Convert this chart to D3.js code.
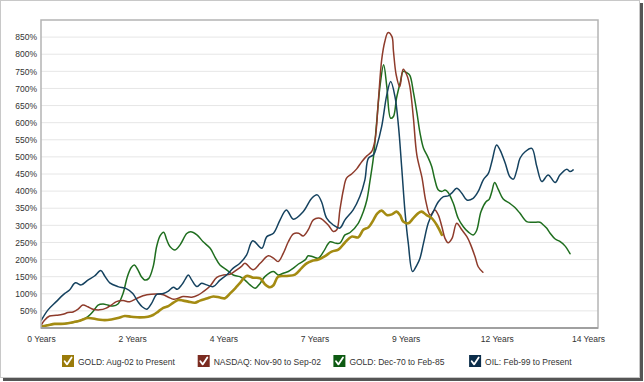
<!DOCTYPE html>
<html><head><meta charset="utf-8">
<script src="https://cdn.jsdelivr.net/npm/d3@7"></script>
<style>
body{margin:0;background:#fff}
svg{display:block}
text{font-family:"Liberation Sans",Arial,sans-serif;fill:#333;font-size:8.5px}
</style>
</head><body>
<svg id="chart" width="644" height="382"></svg>
<script>
// ---- data (years since start, % gain) ----
const seriesNames = ["GOLD: Aug-02 to Present","NASDAQ: Nov-90 to Sep-02","GOLD: Dec-70 to Feb-85","OIL: Feb-99 to Present"];
const lineColors = ["#a48b12","#8e3b2b","#1f6e1f","#15425f"];
const boxColors = ["#9a7b0a","#7b2b20","#0d5a12","#0b2d4a"];
const yTickValues = [50,100,150,200,250,300,350,400,450,500,550,600,650,700,750,800,850];
const xTickYears = [0, 14/6, 28/6, 7, 56/6, 70/6, 14];
const xTickLabels = ["0 Years","2 Years","4 Years","7 Years","9 Years","12 Years","14 Years"];

const goldAug02 = [[0.01,4],[0.18,8],[0.35,12],[0.51,12],[0.69,14],[0.86,18],[1.03,23],[1.20,29],[1.46,25],[1.63,23],[1.80,25],[1.97,29],[2.14,35],[2.31,33],[2.53,31],[2.74,33],[2.87,38],[3.00,48],[3.13,59],[3.26,64],[3.39,74],[3.51,82],[3.64,80],[3.77,77],[3.94,74],[4.07,80],[4.24,86],[4.41,92],[4.58,89],[4.71,87],[4.84,101],[4.97,116],[5.09,131],[5.26,152],[5.43,147],[5.61,145],[5.73,128],[5.86,119],[5.95,125],[6.07,150],[6.29,152],[6.50,156],[6.67,175],[6.80,189],[6.93,196],[7.10,200],[7.27,210],[7.44,223],[7.61,229],[7.78,250],[7.95,267],[8.12,265],[8.25,287],[8.38,294],[8.51,316],[8.61,335],[8.72,343],[8.85,330],[8.98,332],[9.10,340],[9.19,330],[9.27,311],[9.40,306],[9.53,321],[9.65,335],[9.74,340],[9.87,330],[10.00,321],[10.13,301],[10.26,272]];

const nasdaq90 = [[0.01,9],[0.09,23],[0.22,35],[0.39,37],[0.56,40],[0.69,45],[0.82,47],[0.95,55],[1.07,67],[1.20,62],[1.33,55],[1.50,53],[1.67,58],[1.80,67],[1.93,77],[2.10,80],[2.27,77],[2.44,86],[2.61,94],[2.71,97],[2.96,99],[3.13,97],[3.26,90],[3.39,84],[3.51,87],[3.64,92],[3.86,90],[4.03,97],[4.15,106],[4.33,123],[4.50,148],[4.67,155],[4.84,157],[5.01,170],[5.14,181],[5.22,189],[5.43,170],[5.61,189],[5.82,211],[5.95,204],[6.07,194],[6.20,218],[6.33,252],[6.46,275],[6.59,277],[6.71,269],[6.84,287],[6.97,316],[7.14,321],[7.35,301],[7.48,282],[7.57,287],[7.65,345],[7.74,404],[7.82,438],[7.95,450],[8.08,465],[8.21,486],[8.34,503],[8.46,515],[8.55,550],[8.63,657],[8.72,784],[8.80,837],[8.88,863],[8.98,852],[9.02,810],[9.09,740],[9.18,705],[9.27,756],[9.36,740],[9.44,706],[9.53,615],[9.62,505],[9.75,440],[9.85,370],[9.96,330],[10.08,345],[10.17,330],[10.26,296],[10.34,262],[10.42,249],[10.52,262],[10.64,306],[10.77,287],[10.90,267],[10.98,248],[11.11,208],[11.19,179],[11.31,163]];

const goldDec70 = [[0.01,4],[0.18,9],[0.44,12],[0.69,14],[0.90,18],[1.07,25],[1.20,33],[1.33,48],[1.46,67],[1.59,70],[1.71,67],[1.84,64],[1.97,70],[2.10,101],[2.21,150],[2.31,177],[2.39,184],[2.48,170],[2.57,150],[2.67,140],[2.76,145],[2.87,179],[2.96,238],[3.05,270],[3.14,280],[3.22,257],[3.30,238],[3.43,228],[3.56,243],[3.73,276],[3.83,281],[3.99,272],[4.15,252],[4.33,233],[4.45,208],[4.58,184],[4.75,170],[4.92,155],[5.09,150],[5.22,140],[5.35,126],[5.48,116],[5.61,131],[5.73,150],[5.95,165],[6.07,155],[6.20,160],[6.33,165],[6.46,175],[6.59,187],[6.76,199],[6.84,211],[6.96,208],[7.10,204],[7.23,223],[7.40,252],[7.53,248],[7.65,248],[7.78,272],[7.91,279],[8.12,306],[8.25,340],[8.34,374],[8.42,430],[8.51,500],[8.59,600],[8.68,710],[8.77,769],[8.85,706],[8.95,613],[9.02,618],[9.10,672],[9.20,720],[9.27,750],[9.36,746],[9.44,738],[9.53,690],[9.62,630],[9.70,570],[9.79,525],[9.90,500],[10.00,472],[10.08,433],[10.17,403],[10.26,399],[10.34,403],[10.42,396],[10.55,365],[10.68,320],[10.81,296],[10.94,280],[11.06,272],[11.15,285],[11.26,340],[11.39,369],[11.47,376],[11.54,399],[11.61,425],[11.70,406],[11.83,377],[12.00,364],[12.13,352],[12.26,335],[12.43,311],[12.60,309],[12.77,309],[12.86,301],[12.94,292],[13.03,277],[13.16,260],[13.28,253],[13.41,240],[13.54,217]];

const oilFeb99 = [[0.01,23],[0.18,53],[0.39,77],[0.61,101],[0.73,111],[0.88,132],[1.03,126],[1.20,140],[1.37,152],[1.53,168],[1.63,152],[1.76,132],[1.97,121],[2.18,115],[2.35,101],[2.48,77],[2.59,62],[2.71,55],[2.83,72],[2.96,98],[3.13,101],[3.26,108],[3.39,119],[3.49,113],[3.60,126],[3.69,142],[3.77,155],[3.86,140],[3.99,121],[4.11,131],[4.24,126],[4.41,121],[4.58,140],[4.75,155],[4.92,175],[5.09,189],[5.26,213],[5.42,255],[5.65,233],[5.78,267],[5.95,277],[6.12,316],[6.28,345],[6.46,318],[6.71,340],[6.93,379],[7.07,389],[7.18,369],[7.31,321],[7.48,301],[7.65,292],[7.78,316],[7.99,345],[8.16,384],[8.29,433],[8.38,496],[8.51,506],[8.59,530],[8.72,589],[8.85,681],[8.95,720],[9.06,676],[9.15,589],[9.23,472],[9.32,335],[9.40,248],[9.51,165],[9.62,184],[9.70,204],[9.79,248],[9.91,306],[10.04,340],[10.17,369],[10.30,384],[10.42,386],[10.51,394],[10.64,408],[10.77,394],[10.90,374],[11.06,379],[11.19,399],[11.32,433],[11.45,452],[11.55,491],[11.66,535],[11.75,520],[11.88,482],[12.00,442],[12.09,435],[12.18,462],[12.26,496],[12.39,515],[12.56,525],[12.69,472],[12.82,428],[12.98,447],[13.16,425],[13.28,447],[13.46,464],[13.54,457],[13.62,462]];

const allSeries = [goldAug02, nasdaq90, goldDec70, oilFeb99];
const lineWidths = [2.6, 1.5, 1.5, 1.5];

// ---- layout ----
const svg = d3.select("#chart");
const W = 644, H = 382;
const plot = {left: 41, top: 20, right: 598, bottom: 328};

// outer frame with shadow
svg.append("rect").attr("x",0.5).attr("y",0.5).attr("width",W-5).attr("height",H-5)
  .attr("fill","#fff").attr("stroke","#c8c8c8");
svg.append("rect").attr("x",W-4).attr("y",3).attr("width",3).attr("height",H-4).attr("fill","#555");
svg.append("rect").attr("x",3).attr("y",H-4).attr("width",W-4).attr("height",3).attr("fill","#555");

const x = d3.scaleLinear().domain([0, 14 * (plot.right - plot.left) / (588 - plot.left)]).range([plot.left, plot.right]);
const y = d3.scaleLinear().domain([0, 900]).range([plot.bottom, plot.top]);

// gridlines
svg.append("g").selectAll("line").data(yTickValues).join("line")
  .attr("x1", plot.left).attr("x2", plot.right)
  .attr("y1", d => y(d)).attr("y2", d => y(d))
  .attr("stroke", "#e6e6e6").attr("stroke-width", 1);

// y axis labels
const yAxis = d3.axisLeft(y).tickValues(yTickValues).tickFormat(d => d + "%").tickSize(0).tickPadding(4);
const gy = svg.append("g").attr("transform", `translate(${plot.left},0)`).call(yAxis);
gy.select(".domain").remove();
gy.selectAll("text").attr("font-size", "8.5px").attr("fill", "#333").style("font-family", '"Liberation Sans",Arial,sans-serif');

// x axis labels
const xAxis = d3.axisBottom(x).tickValues(xTickYears).tickFormat((d, i) => xTickLabels[i]).tickSize(0).tickPadding(8);
const gx = svg.append("g").attr("transform", `translate(0,${plot.bottom})`).call(xAxis);
gx.select(".domain").remove();
gx.selectAll("text").attr("font-size", "8.5px").attr("fill", "#333").style("font-family", '"Liberation Sans",Arial,sans-serif');

// lines
const line = d3.line().x(d => x(d[0])).y(d => y(d[1])).curve(d3.curveCatmullRom.alpha(0.5));
const clip = svg.append("clipPath").attr("id","clip").append("rect")
  .attr("x", plot.left).attr("y", plot.top).attr("width", plot.right - plot.left).attr("height", plot.bottom - plot.top);
const gl = svg.append("g").attr("clip-path","url(#clip)");
[2, 1, 3, 0].forEach(i => {
  gl.append("path").datum(allSeries[i]).attr("d", line)
    .attr("fill", "none").attr("stroke", lineColors[i]).attr("stroke-width", lineWidths[i])
    .attr("stroke-linejoin", "round").attr("stroke-linecap", "round");
});

// plot border
svg.append("rect").attr("x", plot.left).attr("y", plot.top)
  .attr("width", plot.right - plot.left).attr("height", plot.bottom - plot.top)
  .attr("fill", "none").attr("stroke", "#b4b4b4").attr("stroke-width", 1.5);
svg.append("line").attr("x1", plot.left).attr("x2", plot.right).attr("y1", plot.bottom).attr("y2", plot.bottom)
  .attr("stroke", "#a0a0a0").attr("stroke-width", 2);

// legend
const legendStart = 62, legendStep = 135.7, legendY = 355;
const lg = svg.append("g").selectAll("g").data(seriesNames).join("g")
  .attr("transform", (d, i) => `translate(${legendStart + i * legendStep},${legendY})`);
lg.append("rect").attr("width", 12).attr("height", 12).attr("fill", (d, i) => boxColors[i]);
lg.append("path").attr("d", "M2.6,6.2 L5,9.4 L9.6,2.4").attr("fill", "none")
  .attr("stroke", "#fff").attr("stroke-width", 1.8).attr("stroke-linecap","round").attr("stroke-linejoin","round");
lg.append("text").attr("x", 16).attr("y", 9.5).text(d => d).attr("font-size", "8.5px");
</script>
</body></html>
